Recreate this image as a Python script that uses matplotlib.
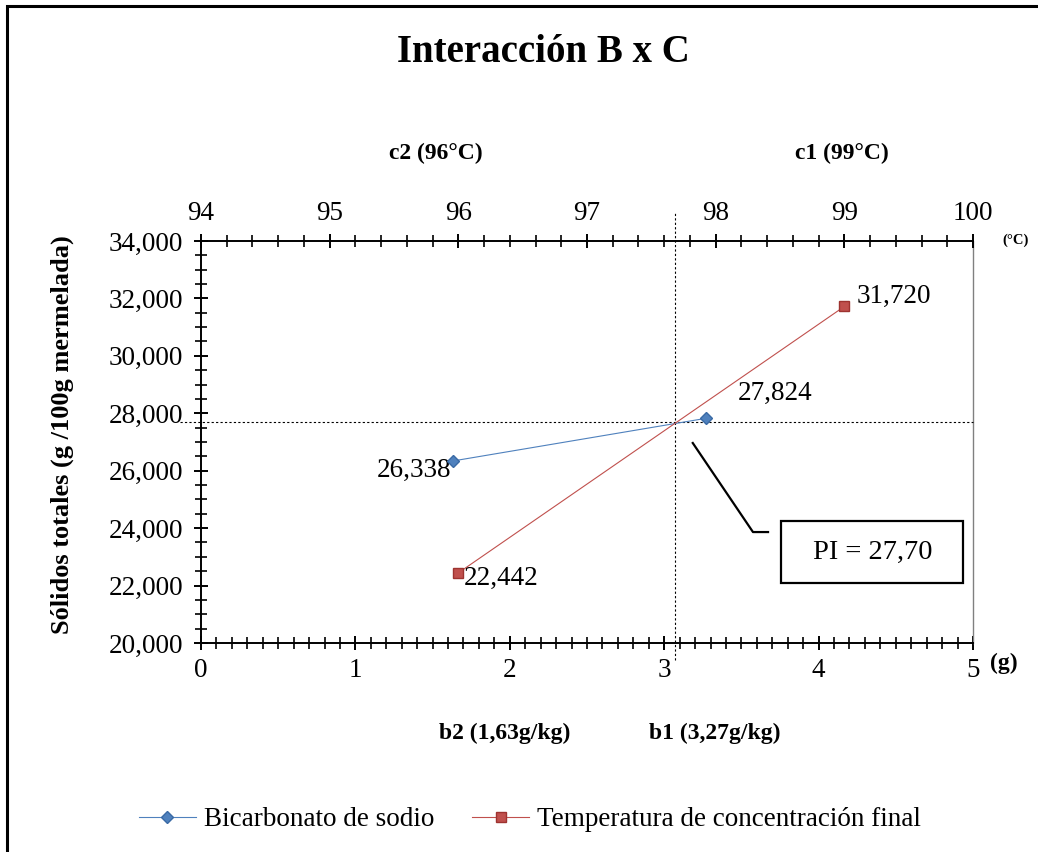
import numpy as np
import matplotlib
matplotlib.use("Agg")
import matplotlib.pyplot as plt
from matplotlib.ticker import MultipleLocator, FuncFormatter
from matplotlib.patches import Rectangle
import matplotlib.transforms as mtransforms

plt.rcParams['font.family'] = ['Liberation Serif', 'DejaVu Serif']

# data
bicarb_g = [1.63, 3.27]          # bottom axis (g)
bicarb_st = [26338, 27824]
temp_c = [96, 99]                # top axis (°C)
temp_st = [22442, 31720]
pi_value = 27.70
series_names = ["Bicarbonato de sodio", "Temperatura de concentración final"]

blue = "#4F81BD"
red = "#C0504D"
fs = 19.5

fig = plt.figure(figsize=(10.38, 8.52), dpi=100)
ax = fig.add_axes([201/1038, 1-643/852, 772/1038, 402/852])
ax2 = ax.twiny()

ax.set_xlim(0, 5)
ax.set_ylim(20000, 34000)
ax2.set_xlim(94, 100)

# series
l1, = ax.plot(bicarb_g, bicarb_st, color=blue, lw=0.8, marker="D", ms=6.5,
              mfc=blue, mec="#3A6AA5", zorder=5)
l2, = ax2.plot(temp_c, temp_st, color=red, lw=0.8, marker="s", ms=7.5,
               mfc=red, mec="#9E3330", zorder=5)

# data labels
for x, y, off in zip(bicarb_g, bicarb_st, [(-28, -7), (50, 18)]):
    ax.annotate(f"{y:,.0f}", (x, y), xytext=off, textcoords="offset points",
                ha="center", va="center", fontsize=fs)
for x, y, off in zip(temp_c, temp_st, [(31, -4), (36, 7)]):
    ax2.annotate(f"{y:,.0f}", (x, y), xytext=off, textcoords="offset points",
                 ha="center", va="center", fontsize=fs)

# intersection of both lines (in bottom-axis units)
tx = [(t - 94) / 6 * 5 for t in temp_c]
m1 = (bicarb_st[1] - bicarb_st[0]) / (bicarb_g[1] - bicarb_g[0])
m2 = (temp_st[1] - temp_st[0]) / (tx[1] - tx[0])
xi = (temp_st[0] - m2 * tx[0] - bicarb_st[0] + m1 * bicarb_g[0]) / (m1 - m2)
yi = pi_value * 1000

tv = mtransforms.blended_transform_factory(ax.transData, ax.transAxes)
ax.plot([xi, xi], [-0.042, 1.07], transform=tv, color="black", lw=0.8,
        ls=(0, (2, 2)), clip_on=False, zorder=3)
th = mtransforms.blended_transform_factory(ax.transAxes, ax.transData)
ax.plot([-0.027, 1.0], [yi, yi], transform=th, color="black", lw=0.8,
        ls=(0, (2, 2)), clip_on=False, zorder=3)

# PI callout
ax.plot([0.637, 0.715, 0.7345], [0.4975, 0.276, 0.276], transform=ax.transAxes,
        color="black", lw=1.6, zorder=4)
ax.add_patch(Rectangle((781/1038, 1-583/852), 182/1038, 62/852,
                       transform=fig.transFigure, fill=False, ec="black", lw=1.6))
fig.text(872.5/1038, 1-552/852, "PI = " + f"{pi_value:.2f}".replace(".", ","),
         ha="center", va="center", fontsize=20.5)

# axes styling
for s in ["left", "bottom"]:
    ax.spines[s].set_linewidth(1.4)
ax.spines["top"].set_visible(False)
ax.spines["right"].set_color("#808080")
ax.spines["right"].set_linewidth(1.0)
for s in ["left", "bottom", "right"]:
    ax2.spines[s].set_visible(False)
ax2.spines["top"].set_linewidth(1.4)

ax.xaxis.set_major_locator(MultipleLocator(1))
ax.xaxis.set_minor_locator(MultipleLocator(0.1))
ax.yaxis.set_major_locator(MultipleLocator(2000))
ax.yaxis.set_minor_locator(MultipleLocator(500))
ax.yaxis.set_major_formatter(FuncFormatter(lambda v, p: f"{v:,.0f}"))
ax2.xaxis.set_major_locator(MultipleLocator(1))
ax2.xaxis.set_minor_locator(MultipleLocator(0.2))

ax.tick_params(which="major", direction="inout", length=10, width=1.4,
               labelsize=fs, pad=6)
ax.tick_params(axis="y", which="major", pad=8)
ax.tick_params(which="minor", direction="inout", length=8, width=1.2)
ax.tick_params(axis="x", top=False, which="both")
ax.tick_params(axis="y", right=False, which="both")
ax2.tick_params(which="major", direction="inout", length=10, width=1.4,
                labelsize=fs, pad=6)
ax2.tick_params(which="minor", direction="inout", length=8, width=1.2)

# labels
fig.text(543/1038, 1-52/852, "Interacción B x C", ha="center", va="center",
         fontsize=28, fontweight="bold")
fig.text(436/1038, 1-153/852, "c2 (96°C)", ha="center", va="center",
         fontsize=17, fontweight="bold")
fig.text(842/1038, 1-153/852, "c1 (99°C)", ha="center", va="center",
         fontsize=17, fontweight="bold")
fig.text(505/1038, 1-733/852, "b2 (1,63g/kg)", ha="center", va="center",
         fontsize=17, fontweight="bold")
fig.text(715/1038, 1-733/852, "b1 (3,27g/kg)", ha="center", va="center",
         fontsize=17, fontweight="bold")
fig.text(1004/1038, 1-663/852, "(g)", ha="center", va="center",
         fontsize=17, fontweight="bold")
fig.text(1016/1038, 1-240/852, "(°C)", ha="center", va="center",
         fontsize=10.5, fontweight="bold")
fig.text(62/1038, 1-435/852, "Sólidos totales (g /100g mermelada)",
         ha="center", va="center", rotation=90, fontsize=19, fontweight="bold")

fig.legend([l1, l2], series_names, loc="center", bbox_to_anchor=(530/1038, 1-820/852),
           ncol=2, frameon=False, fontsize=fs, handlelength=2.1,
           handletextpad=0.3, columnspacing=1.4, markerscale=0.9)

# outer chart border
fig.patches.append(Rectangle((7/1038, -0.02), 1.1, 1-6/852 + 0.02,
                             transform=fig.transFigure, fill=False,
                             ec="black", lw=2.2))

fig.savefig("out.png", dpi=100)
